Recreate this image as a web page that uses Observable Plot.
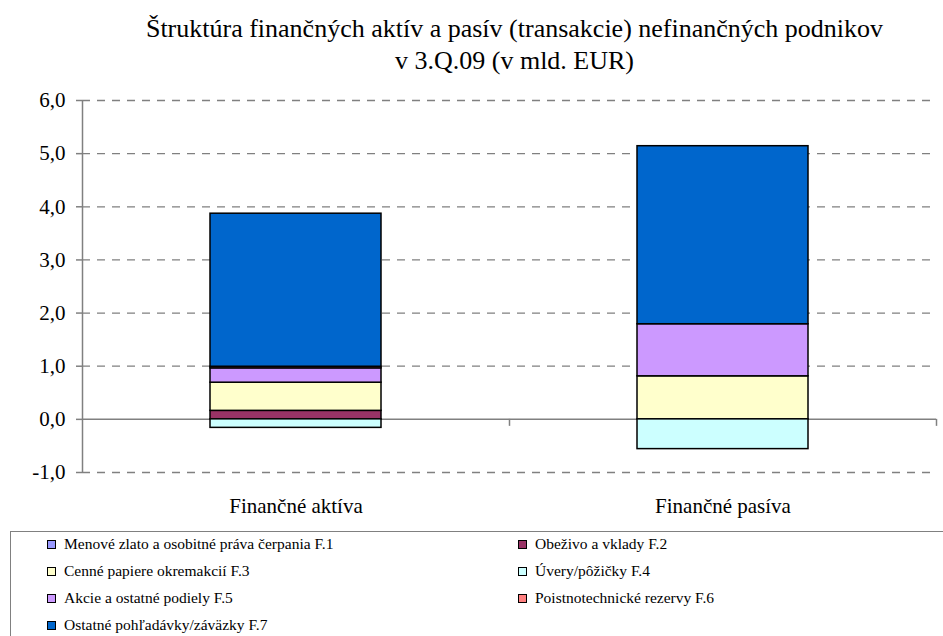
<!DOCTYPE html>
<html><head><meta charset="utf-8">
<script src="https://cdn.jsdelivr.net/npm/d3@7"></script>
<script src="https://cdn.jsdelivr.net/npm/@observablehq/plot@0.6"></script>
<style>
body{margin:0;background:#fff;font-family:"Liberation Serif",Tinos,"Times New Roman",Times,serif;}
#wrap{position:relative;width:943px;height:636px;overflow:hidden;}
#title{position:absolute;top:13px;left:43px;width:943px;text-align:center;font-size:26px;line-height:32px;color:#000;font-family:"Liberation Serif",Tinos,"Times New Roman",Times,serif;}
#chart{position:absolute;top:85px;left:0;}
#legend{position:absolute;top:531px;left:10px;width:945px;height:120px;border:1.5px solid #808080;box-sizing:border-box;font-family:"Liberation Serif",Tinos,"Times New Roman",Times,serif;}
.item{position:absolute;font-size:15.5px;display:flex;align-items:center;white-space:nowrap;height:20px;}
.sw{width:7px;height:7px;border:1px solid #000;margin-right:8px;}
</style></head>
<body>
<div id="wrap">
  <div id="title">Štruktúra finančných aktív a pasív (transakcie) nefinančných podnikov<br>v 3.Q.09 (v mld. EUR)</div>
  <div id="chart"></div>
  <div id="legend"></div>
</div>
<script>
const categories = ["Finančné aktíva", "Finančné pasíva"];
const seriesNames = [
  "Menové zlato a osobitné práva čerpania F.1",
  "Obeživo a vklady F.2",
  "Cenné papiere okremakcií F.3",
  "Úvery/pôžičky F.4",
  "Akcie a ostatné podiely F.5",
  "Poistnotechnické rezervy F.6",
  "Ostatné pohľadávky/záväzky F.7"
];
const seriesColors = ["#9999FF", "#993366", "#FFFFCC", "#CCFFFF", "#CC99FF", "#FF8080", "#0066CC"];
const aktiva = [0, 0.16, 0.53, -0.16, 0.27, 0.03, 2.88];
const pasiva = [0, 0, 0.81, -0.56, 0.98, 0, 3.35];
const yTicks = [-1, 0, 1, 2, 3, 4, 5, 6];

const data = [];
[aktiva, pasiva].forEach((vals, ci) => {
  vals.forEach((v, si) => {
    if (v !== 0) data.push({cat: categories[ci], series: seriesNames[si], value: v});
  });
});

const W = 943, mL = 82, mR = 7;
const step = (W - mL - mR) / categories.length;
const FONT = "'Liberation Serif', Tinos, 'Times New Roman', Times, serif";

const chart = Plot.plot({
  width: W,
  height: 445,
  marginTop: 15,
  marginBottom: 58,
  marginLeft: mL,
  marginRight: mR,
  style: {fontFamily: FONT, background: "#fff", color: "#000"},
  x: {domain: categories, paddingInner: 0.6, paddingOuter: 0.3, axis: null},
  y: {domain: [-1, 6], axis: null},
  color: {domain: seriesNames, range: seriesColors},
  marks: [
    Plot.ruleY(yTicks.filter(d => d !== 0), {stroke: "#808080", strokeWidth: 1.3, strokeDasharray: "8,7"}),
    Plot.ruleY([0], {stroke: "#808080", strokeWidth: 1.5}),
    Plot.ruleX([categories[0]], {x: d => d, dx: -step / 2, y1: -1, y2: 6, stroke: "#808080", strokeWidth: 1.5}),
    Plot.ruleX(categories.slice(1), {x: d => d, dx: -step / 2, y1: 0, y2: 0, insetBottom: -7, stroke: "#808080", strokeWidth: 1.5}),
    Plot.ruleX([categories[categories.length - 1]], {x: d => d, dx: step / 2, y1: 0, y2: 0, insetBottom: -7, stroke: "#808080", strokeWidth: 1.5}),
    Plot.barY(data, {x: "cat", y: "value", fill: "series", stroke: "#000", strokeWidth: 1.5}),
    Plot.axisY({ticks: yTicks, label: null, tickFormat: d => d.toFixed(1).replace(".", ","), tickSize: 6, tickPadding: 11, fontSize: 21, stroke: "#808080", strokeWidth: 1.5, color: "#000"}),
    Plot.axisX({label: null, tickSize: 0, tickPadding: 26, fontSize: 21, color: "#000"})
  ]
});
document.getElementById("chart").appendChild(chart);
chart.querySelectorAll("text").forEach(t => t.setAttribute("fill", "#000"));

const legend = document.getElementById("legend");
const rowsY = [2, 29, 56, 83];
seriesNames.forEach((name, i) => {
  const col = i % 2, row = Math.floor(i / 2);
  const el = document.createElement("div");
  el.className = "item";
  el.style.left = (col === 0 ? 36 : 507) + "px";
  el.style.top = rowsY[row] + "px";
  el.innerHTML = `<span class="sw" style="background:${seriesColors[i]}"></span><span>${name}</span>`;
  legend.appendChild(el);
});
</script>
</body></html>
